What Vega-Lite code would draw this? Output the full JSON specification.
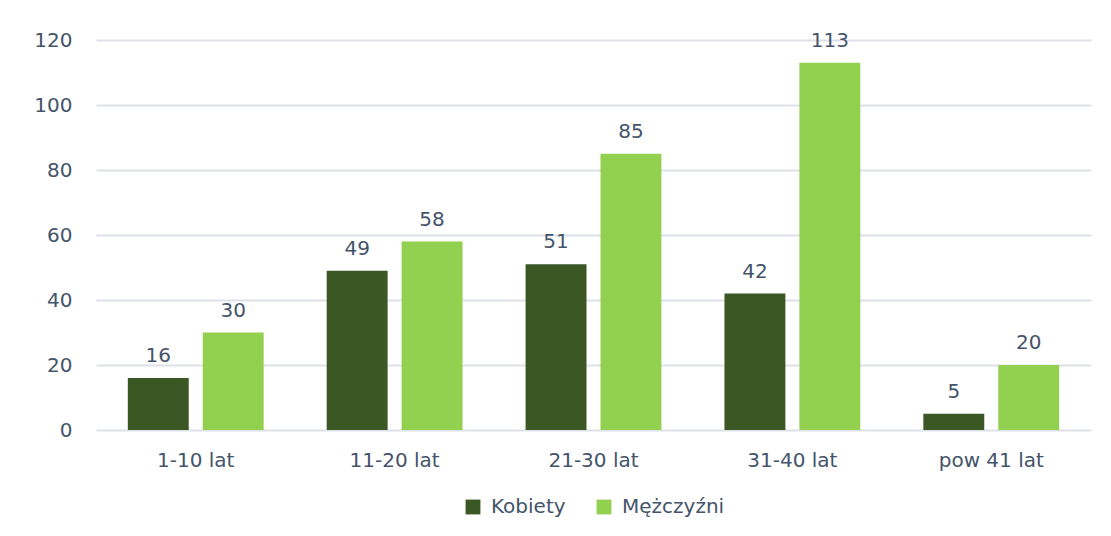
{
  "$schema": "https://vega.github.io/schema/vega-lite/v6.json",
  "autosize": {"type": "none"},
  "width": 995,
  "height": 390,
  "padding": {"left": 96, "top": 40, "right": 20, "bottom": 106},
  "background": "white",
  "data": {
    "values": [
      {"grupa": "1-10 lat", "plec": "Kobiety", "liczba": 16},
      {"grupa": "1-10 lat", "plec": "Mężczyźni", "liczba": 30},
      {"grupa": "11-20 lat", "plec": "Kobiety", "liczba": 49},
      {"grupa": "11-20 lat", "plec": "Mężczyźni", "liczba": 58},
      {"grupa": "21-30 lat", "plec": "Kobiety", "liczba": 51},
      {"grupa": "21-30 lat", "plec": "Mężczyźni", "liczba": 85},
      {"grupa": "31-40 lat", "plec": "Kobiety", "liczba": 42},
      {"grupa": "31-40 lat", "plec": "Mężczyźni", "liczba": 113},
      {"grupa": "pow 41 lat", "plec": "Kobiety", "liczba": 5},
      {"grupa": "pow 41 lat", "plec": "Mężczyźni", "liczba": 20}
    ]
  },
  "encoding": {
    "x": {
      "field": "grupa", "type": "nominal", "sort": null,
      "scale": {"paddingInner": 0.317, "paddingOuter": 0.16},
      "axis": {"title": null, "labelAngle": 0, "ticks": false, "domain": false, "labelPadding": 20, "labelFontSize": 20, "labelColor": "#44546a", "labelFont": "DejaVu Sans"}
    },
    "xOffset": {
      "field": "plec", "type": "nominal", "sort": ["Kobiety", "Mężczyźni"],
      "scale": {"paddingInner": 0.187, "paddingOuter": 0}
    },
    "y": {
      "field": "liczba", "type": "quantitative",
      "scale": {"domain": [0, 120], "nice": false},
      "axis": {"title": null, "values": [0, 20, 40, 60, 80, 100, 120], "ticks": false, "domain": false, "labelPadding": 24, "labelFontSize": 20, "labelColor": "#44546a", "labelFont": "DejaVu Sans", "gridColor": "#dde1e7", "gridWidth": 2}
    }
  },
  "layer": [
    {
      "mark": {"type": "bar"},
      "encoding": {
        "color": {
          "field": "plec", "type": "nominal",
          "scale": {"domain": ["Kobiety", "Mężczyźni"], "range": ["#3a5724", "#92d050"]},
          "legend": {"title": null, "orient": "bottom", "direction": "horizontal", "symbolType": "square", "symbolSize": 220, "symbolStrokeWidth": 0, "labelFontSize": 20, "labelColor": "#44546a", "labelFont": "DejaVu Sans", "labelOffset": 8, "columnPadding": 28, "offset": 27}
        }
      }
    },
    {
      "mark": {"type": "text", "baseline": "bottom", "dy": -12, "fontSize": 20, "color": "#44546a", "font": "DejaVu Sans"},
      "encoding": {"text": {"field": "liczba", "type": "quantitative"}}
    }
  ],
  "config": {
    "view": {"stroke": null},
    "legend": {"layout": {"bottom": {"anchor": "middle"}}}
  }
}
